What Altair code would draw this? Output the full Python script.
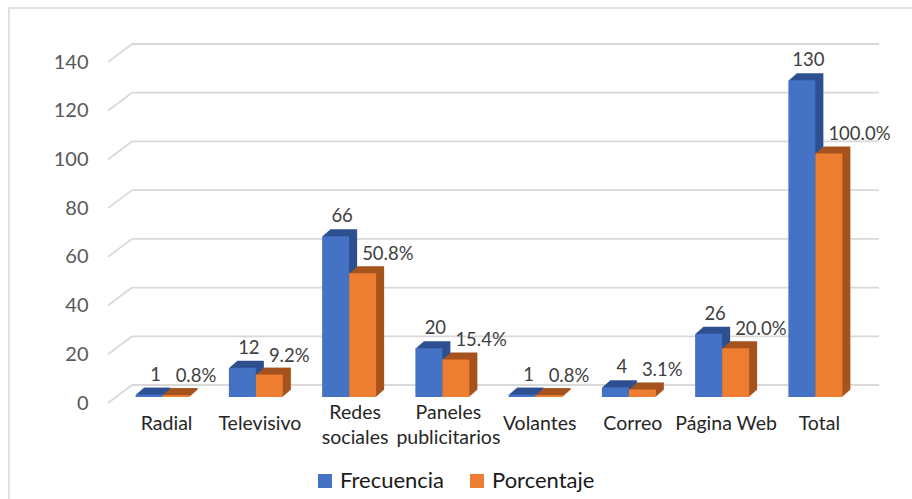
import altair as alt
import pandas as pd

categories = ["Radial", "Televisivo", "Redes sociales", "Paneles publicitarios",
              "Volantes", "Correo", "Página Web", "Total"]
category_text = ["Radial", "Televisivo", "Redes\nsociales", "Paneles\npublicitarios",
                 "Volantes", "Correo", "Página Web", "Total"]
frecuencia = [1, 12, 66, 20, 1, 4, 26, 130]
porcentaje = [0.8, 9.2, 50.8, 15.4, 0.8, 3.1, 20.0, 100.0]
series = ["Frecuencia", "Porcentaje"]
y_ticks = [0, 20, 40, 60, 80, 100, 120, 140]

df = pd.DataFrame({"cat": categories, "freq": frecuencia, "pct": porcentaje,
                   "txt": category_text})
df["freq_label"] = [str(v) for v in frecuencia]
df["pct_label"] = [f"{v:.1f}%" for v in porcentaje]
ticks_df = pd.DataFrame({"v": y_ticks})
one_line = df[~df["txt"].str.contains("\n")]
two_line = df[df["txt"].str.contains("\n")]

W, H = 746, 341
BLUE, ORANGE = "#4472C4", "#ED7D31"
BLUE_D, ORANGE_D = "#2E5090", "#A5531E"
FONT = "Lato"

xaxis = alt.Axis(title=None, domain=False, ticks=False, labels=False, grid=False)
yaxis = alt.Axis(title=None, domain=False, ticks=False, tickSize=0, grid=False,
                 values=y_ticks, labelFont=FONT, labelFontSize=20,
                 labelColor="#595959", labelPadding=20)
xscale = alt.Scale(domain=categories, paddingInner=0.421, paddingOuter=0.2105)
yscale = alt.Scale(domain=[0, 140], nice=False, zero=True)

X = alt.X("cat:N", sort=categories, scale=xscale, axis=xaxis)
color_scale = alt.Scale(domain=series, range=[BLUE, ORANGE])
legend = alt.Legend(title=None, orient="none", direction="horizontal",
                    legendX=206, legendY=408, symbolType="square",
                    symbolSize=196, symbolStrokeWidth=0,
                    labelFont=FONT, labelFontSize=22, labelColor="#1a1a1a",
                    labelOffset=4, columnPadding=21, padding=0)

base = alt.Chart(df)

frame = alt.Chart(alt.Data(values=[{}])).mark_rect(
    fillOpacity=0, stroke="#D9D9D9", strokeWidth=1.5
).encode(x=alt.value(-99), x2=alt.value(830), y=alt.value(-54), y2=alt.value(460))

grid = alt.Chart(ticks_df).mark_rule(color="#D9D9D9", strokeWidth=1.8, yOffset=-18).encode(
    x=alt.value(24), x2=alt.value(771),
    y=alt.Y("v:Q", scale=yscale, axis=yaxis))
diag = alt.Chart(ticks_df).mark_rule(color="#D9D9D9", strokeWidth=1.8, y2Offset=-18).encode(
    x=alt.value(0), x2=alt.value(24),
    y=alt.Y("v:Q", scale=yscale, axis=yaxis), y2="v:Q")


def bars(field, xoff, yoff, color=None, legend_name=None):
    m = base.mark_bar(width=27, xOffset=xoff, x2Offset=xoff, yOffset=yoff, y2Offset=yoff,
                      strokeWidth=0)
    enc = dict(x=X, y=alt.Y(f"{field}:Q", scale=yscale, axis=yaxis))
    if legend_name is not None:
        m = m.transform_calculate(series=f"'{legend_name}'")
        enc["color"] = alt.Color("series:N", scale=color_scale, legend=legend)
    else:
        enc["color"] = alt.value(color)
    return m.encode(**enc)


FRONT_DY = -6
BX, OX = -5.5, 21.5
STEPS = 8
blue_depth = [bars("freq", BX + k, FRONT_DY - k * 7 / STEPS, color=BLUE_D)
              for k in range(STEPS, 0, -1)]
orange_depth = [bars("pct", OX + k, FRONT_DY - k * 7 / STEPS, color=ORANGE_D)
                for k in range(STEPS, 0, -1)]
blue_front = bars("freq", BX, FRONT_DY, legend_name="Frecuencia")
orange_front = bars("pct", OX, FRONT_DY, legend_name="Porcentaje")

blue_text = base.mark_text(align="center", baseline="middle", dx=1, dy=-26,
                           font=FONT, fontSize=18.5, color="#404040").encode(
    x=X, y=alt.Y("freq:Q", scale=yscale, axis=yaxis), text="freq_label:N")
orange_text = base.mark_text(align="left", baseline="middle", dx=21, dy=-25,
                             font=FONT, fontSize=18.5, color="#404040").encode(
    x=X, y=alt.Y("pct:Q", scale=yscale, axis=yaxis), text="pct_label:N")

cat1 = alt.Chart(one_line).mark_text(align="center", baseline="middle", dx=12, dy=21,
                                     font=FONT, fontSize=19.5, color="#262626").encode(
    x=X, y=alt.value(H), text="txt:N")
cat2 = alt.Chart(two_line).mark_text(align="center", baseline="middle", dx=14, dy=10,
                                     lineBreak="\n", lineHeight=25,
                                     font=FONT, fontSize=19.5, color="#262626").encode(
    x=X, y=alt.value(H), text="txt:N")

chart = alt.layer(
    frame, diag, grid, *blue_depth, blue_front, *orange_depth, orange_front,
    blue_text, orange_text, cat1, cat2
).properties(
    width=W, height=H,
    padding={"left": 108, "top": 62, "right": 912 - 108 - W, "bottom": 499 - 62 - H},
    autosize=alt.AutoSizeParams(type="none"),
    background="white",
).configure_view(stroke=None)

chart.save("out.html", embed_options={"renderer": "svg", "actions": False})
